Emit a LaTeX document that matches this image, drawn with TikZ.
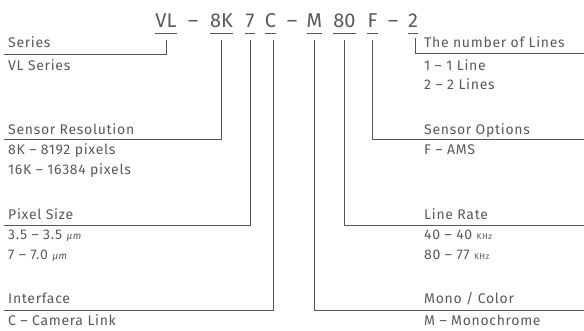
\documentclass[tikz,border=0pt]{standalone}
\usepackage{fontspec}
\setmainfont{Fira Sans}
\newfontfamily\labfont{Fira Sans}[LetterSpace=5]
\newcommand{\myunit}[1]{{\fontsize{10}{11}\selectfont\itshape #1}}
\newcommand{\myhz}[1]{{\fontsize{8.5}{9}\selectfont #1}}
\begin{document}
\begin{tikzpicture}[x=1pt,y=-1pt,
  code/.style={inner sep=0pt,anchor=base,font=\fontsize{20}{22}\selectfont,text=txt},
  lab/.style={inner sep=0pt,anchor=base west,font=\labfont\fontsize{14}{16}\selectfont,text=txt},
  ln/.style={draw=lc,line width=0.9pt}]
\definecolor{txt}{HTML}{595959}
\definecolor{lc}{HTML}{555555}
\useasboundingbox (0,0) rectangle (584,331);
% code
\node[code] (vl) at (166,27.5) {VL};
\node[code] (d1) at (193,27.5) {–};
\node[code] (k) at (221.5,27.5) {8K};
\node[code] (sz) at (250,27.5) {7};
\node[code] (c) at (270.5,27.5) {C};
\node[code] (d2) at (292,27.5) {–};
\node[code] (m) at (314.5,27.5) {M};
\node[code] (r) at (344.5,27.5) {80};
\node[code] (f) at (372.5,27.5) {F};
\node[code] (d3) at (393,27.5) {–};
\node[code] (n) at (413,27.5) {2};
\foreach \q in {vl,k,sz,c,m,r,f,n}
  \draw[ln] ([yshift=-5.5pt]\q.base west) -- ([yshift=-5.5pt]\q.base east);
% labels left
\node[lab] (t1) at (8,48) {Series};
\node[lab] (t1a) at (8,71) {VL Series};
\node[lab] (t2) at (8,135) {Sensor Resolution};
\node[lab] (t2a) at (8,155) {8K – 8192 pixels};
\node[lab] (t2b) at (8,175) {16K – 16384 pixels};
\node[lab] (t3) at (8,220) {Pixel Size};
\node[lab] (t3a) at (8,240) {3.5 – 3.5 \myunit{µm}};
\node[lab] (t3b) at (8,260) {7 – 7.0 \myunit{µm}};
\node[lab] (t4) at (8,303) {Interface};
\node[lab] (t4a) at (8,325) {C – Camera Link};
% labels right
\node[lab] (u1) at (424,48) {The number of Lines};
\node[lab] (u1a) at (424,71) {1 – 1 Line};
\node[lab] (u1b) at (424,90) {2 – 2 Lines};
\node[lab] (u2) at (424,135) {Sensor Options};
\node[lab] (u2a) at (424,155) {F – AMS};
\node[lab] (u3) at (424,220) {Line Rate};
\node[lab] (u3a) at (424,240) {40 – 40 \myhz{KHz}};
\node[lab] (u3b) at (424,260) {80 – 77 \myhz{KHz}};
\node[lab] (u4) at (424,303) {Mono / Color};
\node[lab] (u4a) at (424,325) {M – Monochrome};
% line ends
\coordinate (e1) at (4,54);
\coordinate (e2) at (4,139);
\coordinate (e3) at (4,225);
\coordinate (e4) at (4,310);
\coordinate (f1) at (584,53);
\coordinate (f2) at (584,139);
\coordinate (f3) at (584,225);
\coordinate (f4) at (584,310);
\draw[ln] ([yshift=-12.5pt]vl.base) |- (e1);
\draw[ln] ([yshift=-12.5pt]k.base) |- (e2);
\draw[ln] ([yshift=-12.5pt]sz.base) |- (e3);
\draw[ln] ([yshift=-12.5pt,xshift=2.5pt]c.base) |- (e4);
\draw[ln] ([yshift=-12.5pt]m.base) |- (f4);
\draw[ln] ([yshift=-12.5pt]r.base) |- (f3);
\draw[ln] ([yshift=-12.5pt]f.base) |- (f2);
\draw[ln] ([yshift=-10.5pt,xshift=2pt]n.base) |- (f1);
\end{tikzpicture}
\end{document}
